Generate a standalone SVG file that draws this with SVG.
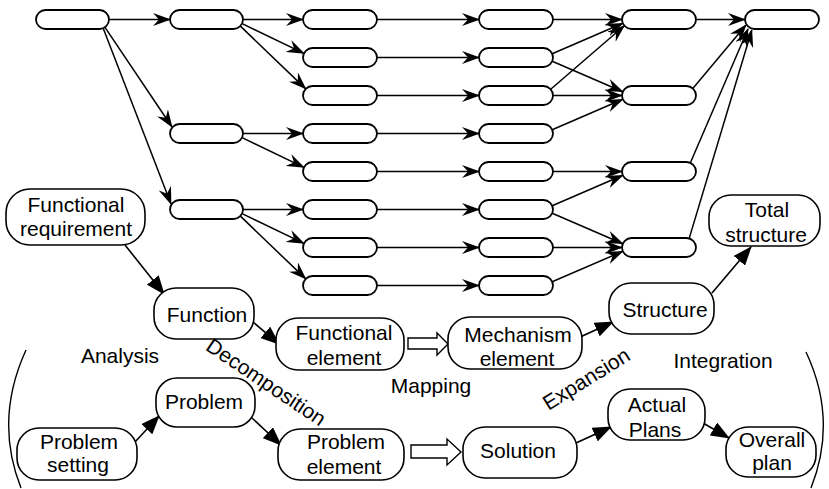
<svg xmlns="http://www.w3.org/2000/svg" width="829" height="489" viewBox="0 0 829 489">
  <style>
    .pill { fill: #fff; stroke: #000; stroke-width: 1.8; }
    .box { fill: #fff; stroke: #000; stroke-width: 1.6; }
    .edge { fill: none; stroke: #000; stroke-width: 1.5; marker-end: url(#barb); }
    .flow { fill: none; stroke: #000; stroke-width: 1.6; marker-end: url(#tri); }
    .hollow { fill: #fff; stroke: #000; stroke-width: 1.4; }
    .paren { fill: none; stroke: #000; stroke-width: 1.4; }
    text { font-family: "Liberation Sans", Arial, sans-serif; font-size: 21px; fill: #000; text-anchor: middle; }
  </style>
  <defs>
    <marker id="barb" markerUnits="userSpaceOnUse" viewBox="0 0 18 13" refX="17" refY="6.5" markerWidth="18" markerHeight="13" orient="auto">
      <path d="M0,0 L18,6.5 L0,13 L6,6.5 Z" fill="#000"/>
    </marker>
    <marker id="tri" markerUnits="userSpaceOnUse" viewBox="0 0 19 15" refX="18" refY="7.5" markerWidth="19" markerHeight="15" orient="auto">
      <path d="M0,0 L19,7.5 L0,15 Z" fill="#000"/>
    </marker>
  </defs>

  <!-- decomposition tree: blank pills -->
  <g id="tree-nodes">
    <g id="c1r0"><rect class="pill" x="36" y="10" width="73" height="19" rx="9.5"/></g>
    <g id="c2r0"><rect class="pill" x="170" y="10" width="73" height="19" rx="9.5"/></g>
    <g id="c2r3"><rect class="pill" x="170" y="124" width="73" height="19" rx="9.5"/></g>
    <g id="c2r5"><rect class="pill" x="170" y="200" width="73" height="19" rx="9.5"/></g>
    <g id="c3r0"><rect class="pill" x="303" y="10" width="74" height="19" rx="9.5"/></g>
    <g id="c3r1"><rect class="pill" x="303" y="48" width="74" height="19" rx="9.5"/></g>
    <g id="c3r2"><rect class="pill" x="303" y="86" width="74" height="19" rx="9.5"/></g>
    <g id="c3r3"><rect class="pill" x="303" y="124" width="74" height="19" rx="9.5"/></g>
    <g id="c3r4"><rect class="pill" x="303" y="162" width="74" height="19" rx="9.5"/></g>
    <g id="c3r5"><rect class="pill" x="303" y="200" width="74" height="19" rx="9.5"/></g>
    <g id="c3r6"><rect class="pill" x="303" y="238" width="74" height="19" rx="9.5"/></g>
    <g id="c3r7"><rect class="pill" x="303" y="276" width="74" height="19" rx="9.5"/></g>
    <g id="c4r0"><rect class="pill" x="479" y="10" width="74" height="19" rx="9.5"/></g>
    <g id="c4r1"><rect class="pill" x="479" y="48" width="74" height="19" rx="9.5"/></g>
    <g id="c4r2"><rect class="pill" x="479" y="86" width="74" height="19" rx="9.5"/></g>
    <g id="c4r3"><rect class="pill" x="479" y="124" width="74" height="19" rx="9.5"/></g>
    <g id="c4r4"><rect class="pill" x="479" y="162" width="74" height="19" rx="9.5"/></g>
    <g id="c4r5"><rect class="pill" x="479" y="200" width="74" height="19" rx="9.5"/></g>
    <g id="c4r6"><rect class="pill" x="479" y="238" width="74" height="19" rx="9.5"/></g>
    <g id="c4r7"><rect class="pill" x="479" y="276" width="74" height="19" rx="9.5"/></g>
    <g id="c5r0"><rect class="pill" x="622" y="10" width="74" height="19" rx="9.5"/></g>
    <g id="c5r2"><rect class="pill" x="622" y="86" width="74" height="19" rx="9.5"/></g>
    <g id="c5r4"><rect class="pill" x="622" y="162" width="74" height="19" rx="9.5"/></g>
    <g id="c5r6"><rect class="pill" x="622" y="238" width="74" height="19" rx="9.5"/></g>
    <g id="c6r0"><rect class="pill" x="745" y="10" width="74" height="19" rx="9.5"/></g>
  </g>

  <!-- connectors -->
  <g id="connectors">
    <!-- tree edges -->
    <line class="edge" x1="109" y1="19.5" x2="170" y2="19.5"/>
    <line class="edge" x1="105" y1="27.3" x2="172" y2="127"/>
    <line class="edge" x1="103.2" y1="28.3" x2="171" y2="204"/>
    <line class="edge" x1="243" y1="19.5" x2="303" y2="19.5"/>
    <line class="edge" x1="242.1" y1="23.6" x2="303.9" y2="53.4"/>
    <line class="edge" x1="240.4" y1="26.1" x2="305.7" y2="88.9"/>
    <line class="edge" x1="243" y1="133.5" x2="303" y2="133.5"/>
    <line class="edge" x1="242.1" y1="137.6" x2="303.9" y2="167.4"/>
    <line class="edge" x1="243" y1="209.5" x2="303" y2="209.5"/>
    <line class="edge" x1="242.1" y1="213.6" x2="303.9" y2="243.4"/>
    <line class="edge" x1="240.4" y1="216.1" x2="305.7" y2="278.9"/>
    <line class="edge" x1="377" y1="19.5" x2="479" y2="19.5"/>
    <line class="edge" x1="377" y1="57.5" x2="479" y2="57.5"/>
    <line class="edge" x1="377" y1="95.5" x2="479" y2="95.5"/>
    <line class="edge" x1="377" y1="133.5" x2="479" y2="133.5"/>
    <line class="edge" x1="377" y1="171.5" x2="479" y2="171.5"/>
    <line class="edge" x1="377" y1="209.5" x2="479" y2="209.5"/>
    <line class="edge" x1="377" y1="247.5" x2="479" y2="247.5"/>
    <line class="edge" x1="377" y1="285.5" x2="479" y2="285.5"/>
    <line class="edge" x1="553" y1="19.5" x2="622" y2="19.5"/>
    <line class="edge" x1="552.2" y1="53.7" x2="622.8" y2="23.3"/>
    <line class="edge" x1="552.2" y1="61.3" x2="622.8" y2="91.7"/>
    <line class="edge" x1="550.7" y1="89.3" x2="624.3" y2="25.7"/>
    <line class="edge" x1="553" y1="95.5" x2="622" y2="95.5"/>
    <line class="edge" x1="552.2" y1="129.7" x2="622.8" y2="99.3"/>
    <line class="edge" x1="553" y1="171.5" x2="622" y2="171.5"/>
    <line class="edge" x1="552.2" y1="205.7" x2="622.8" y2="175.3"/>
    <line class="edge" x1="552.2" y1="213.3" x2="622.8" y2="243.7"/>
    <line class="edge" x1="553" y1="247.5" x2="622" y2="247.5"/>
    <line class="edge" x1="552.2" y1="281.7" x2="622.8" y2="251.3"/>
    <line class="edge" x1="696" y1="19.5" x2="745" y2="19.5"/>
    <line class="edge" x1="692.8" y1="88.4" x2="746" y2="25"/>
    <line class="edge" x1="690.4" y1="162.8" x2="748" y2="29"/>
    <line class="edge" x1="689.2" y1="238.4" x2="751.8" y2="30"/>

    <!-- process flow -->
    <line class="flow" x1="125" y1="245" x2="164" y2="294"/>
    <line class="flow" x1="253" y1="322" x2="279" y2="344"/>
    <line class="flow" x1="578" y1="338" x2="613" y2="322"/>
    <line class="flow" x1="712" y1="293" x2="751" y2="247"/>
    <line class="flow" x1="135" y1="442" x2="159" y2="416"/>
    <line class="flow" x1="252" y1="418" x2="281" y2="445"/>
    <line class="flow" x1="576" y1="443" x2="611" y2="427"/>
    <line class="flow" x1="703" y1="423" x2="729" y2="438"/>

    <!-- mapping arrows -->
    <polygon class="hollow" points="408,338 437,338 437,333 448,344 437,355 437,349 408,349"/>
    <polygon class="hollow" points="411,445 447,445 447,439 461,452 447,465 447,458 411,458"/>
  </g>

  <!-- labelled nodes -->
  <g id="functional-requirement">
    <rect class="box" x="6" y="189" width="139" height="56" rx="24"/>
    <text x="76" y="212">Functional</text>
    <text x="76" y="236">requirement</text>
  </g>
  <g id="function">
    <rect class="box" x="154" y="288" width="100" height="51" rx="22"/>
    <text x="207" y="322">Function</text>
  </g>
  <g id="functional-element">
    <rect class="box" x="276" y="318" width="128" height="52" rx="22"/>
    <text x="344" y="340">Functional</text>
    <text x="344" y="365">element</text>
  </g>
  <g id="mechanism-element">
    <rect class="box" x="448" y="317" width="134" height="52" rx="22"/>
    <text x="518" y="342">Mechanism</text>
    <text x="517" y="366">element</text>
  </g>
  <g id="structure">
    <rect class="box" x="609" y="283" width="105" height="51" rx="22"/>
    <text x="665" y="317">Structure</text>
  </g>
  <g id="total-structure">
    <rect class="box" x="709" y="195" width="111" height="51" rx="22"/>
    <text x="767" y="217">Total</text>
    <text x="766" y="242">structure</text>
  </g>
  <g id="problem-setting">
    <rect class="box" x="17" y="428" width="120" height="52" rx="22"/>
    <text x="79" y="449">Problem</text>
    <text x="78" y="472">setting</text>
  </g>
  <g id="problem">
    <rect class="box" x="156" y="378" width="99" height="49" rx="21"/>
    <text x="204" y="409">Problem</text>
  </g>
  <g id="problem-element">
    <rect class="box" x="278" y="429" width="126" height="51" rx="22"/>
    <text x="346" y="449">Problem</text>
    <text x="344" y="474">element</text>
  </g>
  <g id="solution">
    <rect class="box" x="463" y="427" width="114" height="51" rx="22"/>
    <text x="518" y="458">Solution</text>
  </g>
  <g id="actual-plans">
    <rect class="box" x="608" y="389" width="97" height="51" rx="22"/>
    <text x="657" y="412">Actual</text>
    <text x="655" y="437">Plans</text>
  </g>
  <g id="overall-plan">
    <rect class="box" x="726" y="427" width="90" height="50" rx="22"/>
    <text x="772" y="447">Overall</text>
    <text x="772" y="470">plan</text>
  </g>

  <!-- phase labels -->
  <g id="labels">
    <text x="120" y="363">Analysis</text>
    <text x="431" y="393">Mapping</text>
    <text x="723" y="368">Integration</text>
    <text transform="translate(262,388) rotate(34)">Decomposition</text>
    <text transform="translate(590,385) rotate(-32)">Expansion</text>
  </g>

  <!-- enclosing brackets -->
  <path class="paren" d="M26,350 Q-6,420 21,488"/>
  <path class="paren" d="M806,352 Q838,420 811,488"/>
</svg>
